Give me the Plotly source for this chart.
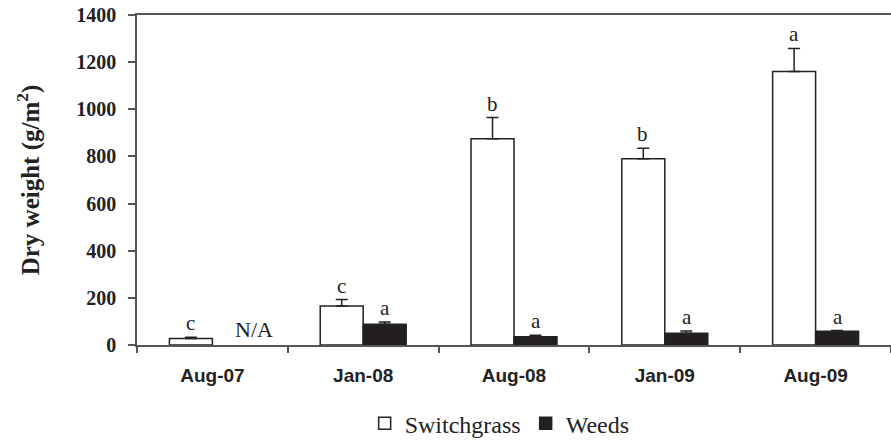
import plotly.graph_objects as go

categories = ["Aug-07", "Jan-08", "Aug-08", "Jan-09", "Aug-09"]
switchgrass = [28, 165, 875, 790, 1160]
switchgrass_err = [5, 28, 90, 45, 98]
weeds = [None, 88, 35, 50, 58]
weeds_err = [0, 10, 6, 9, 3]
sg_letters = ["c", "c", "b", "b", "a"]
wd_letters = ["N/A", "a", "a", "a", "a"]

serif = "Liberation Serif"
sans = "Liberation Sans"

fig = go.Figure()
fig.add_trace(go.Bar(
    name="Switchgrass", x=categories, y=switchgrass,
    marker=dict(color="white", line=dict(color="#222", width=1.5)),
    error_y=dict(type="data", array=switchgrass_err, arrayminus=[0]*5, symmetric=False,
                 color="#222", thickness=1.5, width=6),
))
fig.add_trace(go.Bar(
    name="Weeds", x=categories, y=weeds,
    marker=dict(color="#231f20", line=dict(color="#222", width=1.5)),
    error_y=dict(type="data", array=weeds_err, arrayminus=[0]*5, symmetric=False,
                 color="#222", thickness=1.5, width=6),
))

annotations = []
for i, c in enumerate(categories):
    top = switchgrass[i] + switchgrass_err[i]
    annotations.append(dict(x=c, y=top, text=sg_letters[i], showarrow=False,
                            xshift=-22, yshift=0, yanchor="bottom",
                            font=dict(family=serif, size=21, color="#222")))
    if weeds[i] is None:
        annotations.append(dict(x=c, y=0, text=wd_letters[i], showarrow=False,
                                xshift=42, yshift=1, yanchor="bottom",
                                font=dict(family=serif, size=22, color="#222")))
    else:
        wtop = weeds[i] + weeds_err[i]
        annotations.append(dict(x=c, y=wtop, text=wd_letters[i], showarrow=False,
                                xshift=22, yshift=0, yanchor="bottom",
                                font=dict(family=serif, size=21, color="#222")))

fig.update_layout(
    width=891, height=440, autosize=False,
    margin=dict(l=137, r=0, t=15, b=95, pad=0, autoexpand=False),
    paper_bgcolor="white", plot_bgcolor="white",
    barmode="group", bargap=0.43, bargroupgap=0,
    showlegend=True,
    font=dict(family=serif, color="#222"),
    legend=dict(orientation="h", x=0.481, xanchor="center", y=-0.17, yanchor="top",
                font=dict(family=serif, size=24, color="#222"),
                itemwidth=30, tracegroupgap=0),
    annotations=annotations,
    xaxis=dict(
        type="category", range=[-0.5, 4.5], automargin=False,
        showline=True, linecolor="#555", linewidth=1.5, mirror=True,
        ticks="outside", tickson="boundaries", ticklen=6, tickcolor="#555", tickwidth=1.5,
        tickfont=dict(family=sans, size=19, color="#222", weight="bold"),
        ticklabelstandoff=12,
        showgrid=False,
    ),
    yaxis=dict(
        range=[0, 1400], dtick=200, automargin=False,
        showline=True, linecolor="#555", linewidth=1.5,
        ticks="outside", ticklen=7, tickcolor="#555", tickwidth=1.5,
        tickfont=dict(family=serif, size=20, color="#222", weight="bold"),
        ticklabelstandoff=8,
        showgrid=False, zeroline=False,
        title=dict(text="Dry weight (g/m<sup>2</sup>)", standoff=30,
                   font=dict(family=serif, size=25, color="#222", weight="bold")),
    ),
)

fig.write_html("out.html", config={"displayModeBar": False},
               post_script="document.body.style.margin='0';document.body.style.overflow='hidden';")
